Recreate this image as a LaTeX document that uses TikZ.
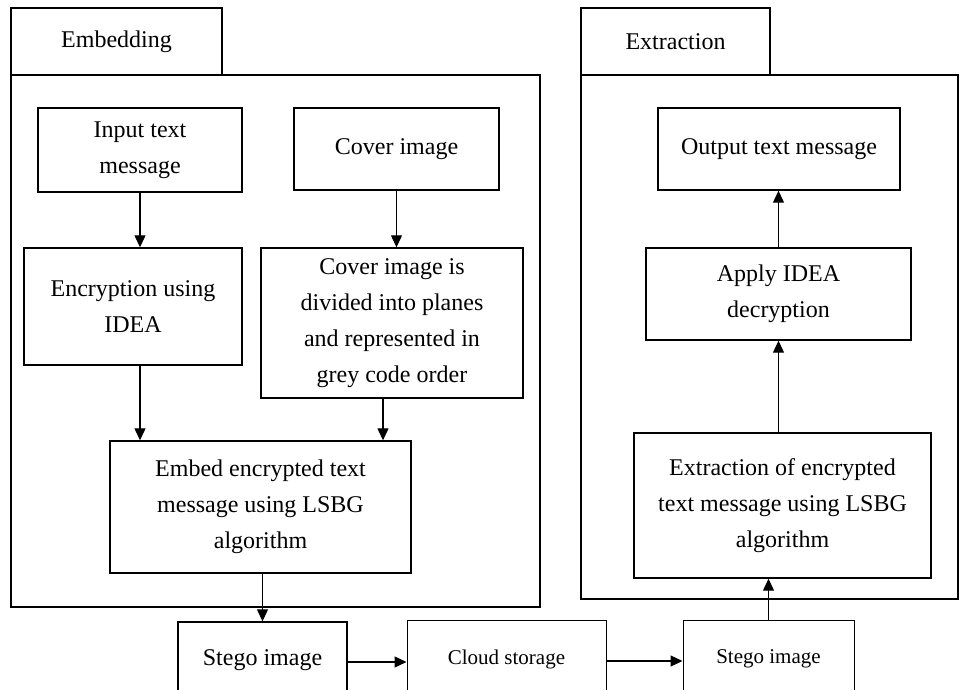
\documentclass[tikz,border=0pt]{standalone}
\usepackage{fontspec}
\setmainfont{Liberation Serif}
\usetikzlibrary{arrows.meta}

\begin{document}
\begin{tikzpicture}[x=1pt,y=-1pt,
    every node/.style={align=center,inner sep=0pt,font=\fontsize{24}{36}\selectfont},
    block/.style={draw,line width=1.4pt},
    thinblock/.style={draw,line width=1pt,font=\fontsize{21}{30}\selectfont},
    frame/.style={draw,line width=1.4pt},
    flow/.style={-{Triangle[length=12pt,width=11pt]},line width=1.2pt}]

    \useasboundingbox (0,0) rectangle (960,689);
    \clip (0,0) rectangle (960,689);

    % embedding side
    \node[block,minimum width=211pt,minimum height=67pt] (embtab) at (116.5,41.5) {Embedding};
    \draw[frame] (11,75) rectangle (540,607);

    \node[block,minimum width=204pt,minimum height=84pt] (input) at (140,150) {Input text\\message};
    \node[block,minimum width=205pt,minimum height=82pt] (cover) at (396.5,149) {Cover image};
    \node[block,minimum width=218pt,minimum height=117pt] (enc) at (133,306.5) {Encryption using\\IDEA};
    \node[block,minimum width=262pt,minimum height=150pt] (div) at (392,323) {Cover image is\\divided into planes\\and represented in\\grey code order};
    \node[block,minimum width=301pt,minimum height=132pt] (embed) at (260.5,507) {Embed encrypted text\\message using LSBG\\algorithm};

    % transfer row
    \node[block,minimum width=169pt,minimum height=76pt] (stego1) at (262.5,660) {Stego image};
    \node[thinblock,minimum width=199pt,minimum height=78pt] (cloud) at (506.5,659) {Cloud storage};
    \node[thinblock,minimum width=171pt,minimum height=78pt] (stego2) at (768.5,659) {Stego image};

    % extraction side
    \node[block,minimum width=189pt,minimum height=67pt] (exttab) at (675.5,41.5) {Extraction};
    \draw[frame] (581,75) rectangle (958,599);

    \node[block,minimum width=242pt,minimum height=82pt] (output) at (779,149) {Output text message};
    \node[block,minimum width=265pt,minimum height=92pt] (apply) at (778.5,294) {Apply IDEA\\decryption};
    \node[block,minimum width=297pt,minimum height=145pt] (extract) at (782.5,505.5) {Extraction of encrypted\\text message using LSBG\\algorithm};

    \draw[flow] (input) -- (input |- enc.north);
    \draw[flow] (cover) -- (cover |- div.north);
    \draw[flow] (input |- enc.south) -- (input |- embed.north);
    \draw[flow] ([xshift=-9pt]div.south) -- ([xshift=-9pt]div.south |- embed.north);
    \draw[flow] (stego1 |- embed.south) -- (stego1.north);
    \draw[flow] ([yshift=-2pt]stego1.east) -- ([yshift=-2pt]stego1.east -| cloud.west);
    \draw[flow] ([yshift=-2pt]cloud.east) -- ([yshift=-2pt]cloud.east -| stego2.west);
    \draw[flow] (stego2.north) -- (stego2 |- extract.south);
    \draw[flow] (extract.north -| apply) -- (apply.south);
    \draw[flow] (apply.north) -- (apply |- output.south);

\end{tikzpicture}
\end{document}
